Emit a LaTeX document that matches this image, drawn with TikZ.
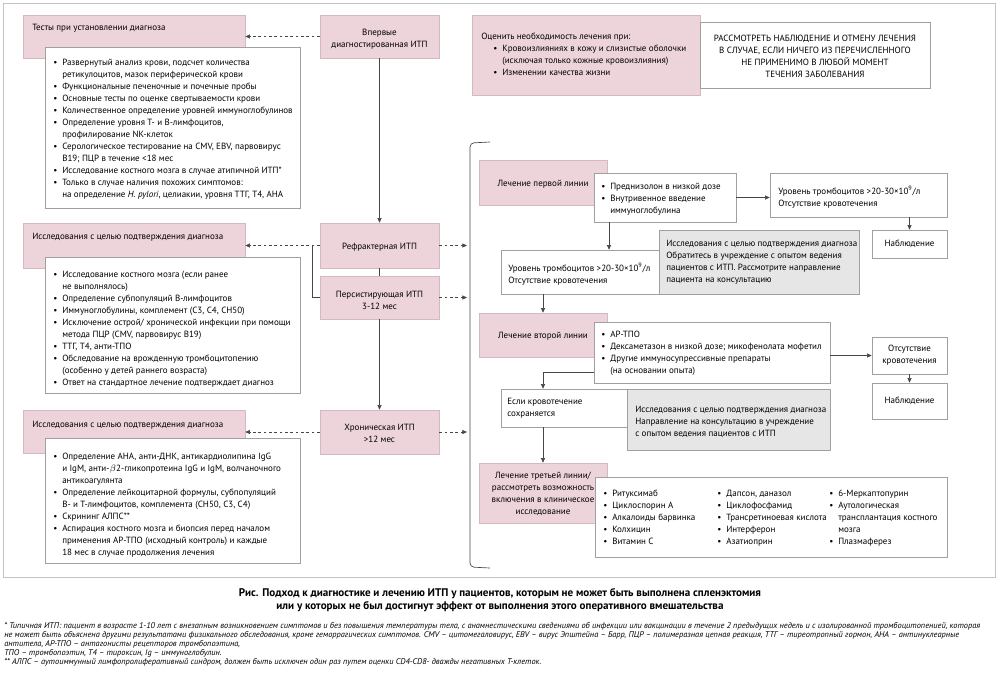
\documentclass[tikz,border=0pt]{standalone}
\usepackage{fontspec}
\setmainfont{PT Sans}
\usetikzlibrary{fit,arrows.meta,calc}
\definecolor{pinkfill}{RGB}{237,212,218}
\definecolor{pinkedge}{RGB}{214,184,192}
\definecolor{boxedge}{RGB}{160,160,160}
\definecolor{grayfill}{RGB}{230,230,230}
\definecolor{linec}{RGB}{70,70,70}
\definecolor{framec}{RGB}{195,195,195}
\newcommand\bodyfont{\fontsize{6.75}{9}\selectfont}
\newcommand\bul{\makebox[6.75pt][l]{\textbullet}}
\newcommand\ind{\hspace*{6.75pt}}
\tikzset{
  pinkbox/.style={draw=pinkedge, fill=pinkfill, inner sep=0pt, line width=0.4pt},
  whitebox/.style={draw=boxedge, fill=white, inner sep=0pt, line width=0.4pt},
  graybox/.style={draw=boxedge, fill=grayfill, inner sep=0pt, line width=0.4pt},
  txt/.style={inner sep=0pt, align=left, font=\bodyfont, anchor=north west},
  ctxt/.style={inner sep=0pt, align=center, font=\bodyfont},
  ttl/.style={inner sep=0pt, font=\bodyfont, anchor=west},
  ln/.style={draw=linec, line width=0.5pt},
  arr/.style={ln, -{Triangle[length=3.5pt,width=3pt]}},
  darr/.style={arr, dash pattern=on 2pt off 2pt},
}
\begin{document}
\begin{tikzpicture}[x=0.75pt,y=-0.75pt]
\useasboundingbox (0,0) rectangle (1000,683);
\draw[framec, line width=0.5pt] (3,3) rectangle (995,577);

% ---------- left column ----------
\node[pinkbox, fit={(23,15)(245,58)}] (tests) {};
\node[whitebox, fit={(45,47)(300,208)}] (testsL) {};
\node[pinkbox, fit={(320,15)(439,58)}] (firstdx) {};
\node[pinkbox, fit={(23,223)(245,268)}] (conf1) {};
\node[whitebox, fit={(45,257)(300,393)}] (conf1L) {};
\node[pinkbox, fit={(320,223)(439,268)}] (refr) {};
\node[pinkbox, fit={(320,276)(439,319)}] (pers) {};
\node[pinkbox, fit={(23,410)(245,453)}] (conf2) {};
\node[whitebox, fit={(45,438)(300,563)}] (conf2L) {};
\node[pinkbox, fit={(320,410)(439,454)}] (chron) {};

\node[ttl] (testsT) at (32,28) {Тесты при установлении диагноза};
\node[txt] (testsLT) at (53,59) {\bul Развернутый анализ крови, подсчет количества\\
\ind ретикулоцитов, мазок периферической крови\\
\bul Функциональные печеночные и почечные пробы\\
\bul Основные тесты по оценке свертываемости крови\\
\bul Количественное определение уровней иммуноглобулинов\\
\bul Определение уровня Т- и В-лимфоцитов,\\
\ind профилирование NK-клеток\\
\bul Серологическое тестирование на CMV, EBV, парвовирус\\
\ind B19; ПЦР в течение <18 мес\\
\bul Исследование костного мозга в случае атипичной ИТП*\\
\bul Только в случае наличия похожих симптомов:\\
\ind на определение \textit{H. pylori}, целиакии, уровня ТТГ, Т4, АНА};
\node[ctxt] (firstdxT) at (379.5,39) {Впервые\\диагностированная ИТП};

\node[ttl] (conf1T) at (32,237) {Исследования с целью подтверждения диагноза};
\node[txt] (conf1LT) at (53,271) {\bul Исследование костного мозга (если ранее\\
\ind не выполнялось)\\
\bul Определение субпопуляций В-лимфоцитов\\
\bul Иммуноглобулины, комплемент (C3, C4, CH50)\\
\bul Исключение острой/ хронической инфекции при помощи\\
\ind метода ПЦР (CMV, парвовирус B19)\\
\bul ТТГ, Т4, анти-ТПО\\
\bul Обследование на врожденную тромбоцитопению\\
\ind (особенно у детей раннего возраста)\\
\bul Ответ на стандартное лечение подтверждает диагноз};
\node[ctxt] (refrT) at (379.5,247) {Рефрактерная ИТП};
\node[ctxt] (persT) at (379.5,300) {Персистирующая ИТП\\3-12 мес};

\node[ttl] (conf2T) at (32,425) {Исследования с целью подтверждения диагноза};
\node[txt] (conf2LT) at (53,453) {\bul Определение АНА, анти-ДНК, антикардиолипина IgG\\
\ind и IgM, анти-$\beta$2-гликопротеина IgG и IgM, волчаночного\\
\ind антикоагулянта\\
\bul Определение лейкоцитарной формулы, субпопуляций\\
\ind В- и Т-лимфоцитов, комплемента (CH50, C3, C4)\\
\bul Скрининг АЛПС**\\
\bul Аспирация костного мозга и биопсия перед началом\\
\ind применения АР-ТПО (исходный контроль) и каждые\\
\ind 18 мес в случае продолжения лечения};
\node[ctxt] (chronT) at (379.5,433) {Хроническая ИТП\\>12 мес};

% left connectors
\draw[darr] (firstdx.west) -- (tests.east);
\draw[arr] (firstdx.south) -- (refr.north);
\draw[ln] (refr.south) -- (pers.north);
\draw[arr] (pers.south) -- (chron.north);
\draw[darr] (refr.west) -- (conf1.east);
\coordinate (brk) at (312,245.5);
\draw[ln] (brk) |- (pers.west);
\draw[darr] (chron.west) -- (chron.west -| conf2.east);
\coordinate (e1) at (467,245.5);
\coordinate (e2) at (467,297.5);
\coordinate (e3) at (467,432);
\draw[darr] (refr.east) -- (e1);
\draw[darr] (pers.east) -- (e2);
\draw[darr] (chron.east) -- (e3);

% ---------- top right ----------
\node[pinkbox, fit={(472,15)(700,95)}] (eval) {};
\node[whitebox, fit={(700,22)(930,88)}] (consider) {};
\node[txt] (evalT) at (481,33) {Оценить необходимость лечения при:\\
\hspace*{9pt}\bul Кровоизлияниях в кожу и слизистые оболочки\\
\hspace*{15.75pt}(исключая только кожные кровоизлияния)\\
\hspace*{9pt}\bul Изменении качества жизни};
\node[ctxt] (considerT) at (815,56.5) {РАССМОТРЕТЬ НАБЛЮДЕНИЕ И ОТМЕНУ ЛЕЧЕНИЯ\\
В СЛУЧАЕ, ЕСЛИ НИЧЕГО ИЗ ПЕРЕЧИСЛЕННОГО\\
НЕ ПРИМЕНИМО В ЛЮБОЙ МОМЕНТ\\
ТЕЧЕНИЯ ЗАБОЛЕВАНИЯ};

% bracket
\draw[ln, rounded corners=3] (490,142) -- (470,143) -- (470,567) -- (490,568);

% ---------- treatment lines ----------
\node[pinkbox, fit={(479,160)(607,205)}] (first) {};
\node[whitebox, fit={(594,173)(736,222)}] (pred) {};
\node[whitebox, fit={(770,173)(947,217)}] (plt1) {};
\node[whitebox, fit={(872,230)(947,258)}] (obs1) {};
\node[graybox, fit={(659,230)(859,294)}] (gray1) {};
\node[whitebox, fit={(501,250)(659,294)}] (plt2) {};

\node[ctxt] (firstT) at (543,184) {Лечение первой линии};
\node[txt] (predT) at (601,183) {\bul Преднизолон в низкой дозе\\
\bul Внутривенное введение\\
\ind иммуноглобулина};
\node[txt] (plt1T) at (778,186) {Уровень тромбоцитов >20-30\texttimes10\textsuperscript{9}/л\\Отсутствие кровотечения};
\node[ctxt] (obs1T) at (909.5,244) {Наблюдение};
\node[txt] (gray1T) at (666,240) {Исследования с целью подтверждения диагноза\\
Обратитесь в учреждение с опытом ведения\\
пациентов с ИТП. Рассмотрите направление\\
пациента на консультацию};
\node[txt] (plt2T) at (508,263) {Уровень тромбоцитов >20-30\texttimes10\textsuperscript{9}/л\\Отсутствие кровотечения};

\node[pinkbox, fit={(479,313)(607,357)}] (second) {};
\node[whitebox, fit={(594,322)(830,383)}] (ap) {};
\node[whitebox, fit={(872,337)(947,374)}] (abs) {};
\node[whitebox, fit={(872,383)(947,419)}] (obs2) {};
\node[whitebox, fit={(501,389)(627,427)}] (ifb) {};
\node[graybox, fit={(627,389)(830,450)}] (gray2) {};

\node[ctxt] (secondT) at (543,336) {Лечение второй линии};
\node[txt] (apT) at (601,331) {\bul АР-ТПО\\
\bul Дексаметазон в низкой дозе; микофенолата мофетил\\
\bul Другие иммуносупрессивные препараты\\
\ind (на основании опыта)};
\node[ctxt] (absT) at (909.5,355.5) {Отсутствие\\кровотечения};
\node[ctxt] (obs2T) at (909.5,401) {Наблюдение};
\node[txt] (ifbT) at (507,398) {Если кровотечение\\сохраняется};
\node[txt] (gray2T) at (635,406) {Исследования с целью подтверждения диагноза\\
Направление на консультацию в учреждение\\
с опытом ведения пациентов с ИТП};

\node[pinkbox, fit={(479,463)(607,523)}] (third) {};
\node[whitebox, fit={(595,477)(947,557)}] (list) {};
\node[ctxt] (thirdT) at (543,493.5) {Лечение третьей линии/\\рассмотреть возможность\\включения в клиническое\\исследование};
\node[txt] (listA) at (603,490) {\bul Ритуксимаб\\\bul Циклоспорин А\\\bul Алкалоиды барвинка\\\bul Колхицин\\\bul Витамин С};
\node[txt] (listB) at (717,490) {\bul Дапсон, даназол\\\bul Циклофосфамид\\\bul Трансретиноевая кислота\\\bul Интерферон\\\bul Азатиоприн};
\node[txt] (listC) at (829,490) {\bul 6-Меркаптопурин\\\bul Аутологическая\\\ind трансплантация костного\\\ind мозга\\\bul Плазмаферез};

% right connectors
\draw[arr] (pred.east) -- (pred.east -| plt1.west);
\draw[arr] (obs1.north |- plt1.south) -- (obs1.north);
\coordinate (p1) at (609,222);
\draw[arr] (p1) -- (p1 |- plt2.north);
\draw[arr] (second.north |- plt2.south) -- (second.north);
\draw[arr] (ap.east |- abs.west) -- (abs.west);
\draw[arr] (abs.south) -- (obs2.north);
\coordinate (p2) at (594,372);
\draw[arr] (p2) -| (ifb.north -| second.south);
\draw[arr] (third.north |- ifb.south) -- (third.north);

% ---------- caption and notes ----------
\node[inner sep=0pt, align=center, font=\fontsize{8.3}{10}\selectfont\bfseries] (cap) at (500,600) {Рис. Подход к диагностике и лечению ИТП у пациентов, которым не может быть выполнена спленэктомия\\или у которых не был достигнут эффект от выполнения этого оперативного вмешательства};
\node[inner sep=0pt, align=left, anchor=north west, font=\fontsize{6.25}{6.75}\selectfont\itshape] (notes) at (4,622) {* Типичная ИТП: пациент в возрасте 1-10 лет с внезапным возникновением симптомов и без повышения температуры тела, с анамнестическими сведениями об инфекции или вакцинации в течение 2 предыдущих недель и с изолированной тромбоцитопенией, которая\\
не может быть объяснена другими результатами физикального обследования, кроме геморрагических симптомов. CMV – цитомегаловирус, EBV – вирус Эпштейна – Барр, ПЦР – полимеразная цепная реакция, ТТГ – тиреотропный гормон, АНА – антинуклеарные\\
антитела, АР-ТПО – антагонисты рецепторов тромбопоэтина,\\
ТПО – тромбопоэтин, Т4 – тироксин, Ig – иммуноглобулин.\\
** АЛПС – аутоиммунный лимфопролиферативный синдром, должен быть исключен один раз путем оценки CD4-CD8- дважды негативных Т-клеток.};
\end{tikzpicture}
\end{document}
